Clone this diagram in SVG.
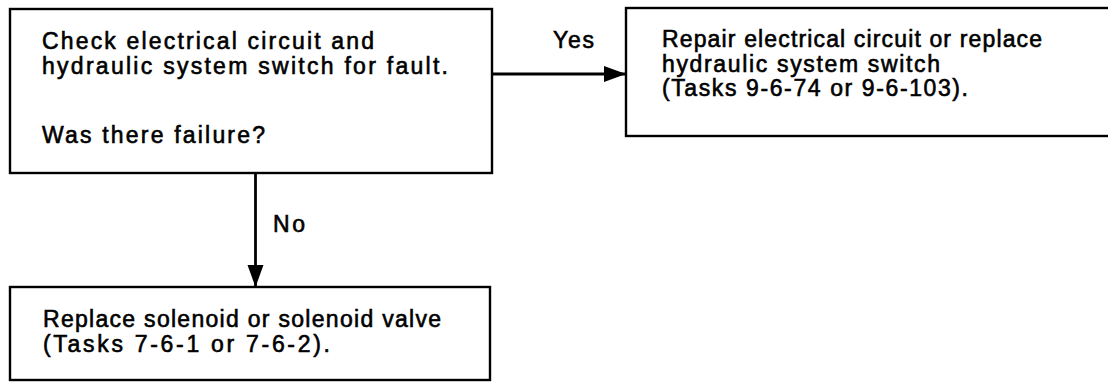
<svg xmlns="http://www.w3.org/2000/svg" width="1108" height="383" viewBox="0 0 1108 383">
<style>
.box{fill:#fff;stroke:#000;stroke-width:2.4}
.t{font-family:"Liberation Sans",Arial,sans-serif;font-size:23px;fill:#000;stroke:#000;stroke-width:0.6}
.c{stroke:#000;stroke-width:2.8;fill:none}
</style>
<defs>
<marker id="ah" markerUnits="userSpaceOnUse" markerWidth="24" markerHeight="18" refX="22" refY="8" orient="auto">
<polygon points="0,0 22,8 0,16" fill="#000"/>
</marker>
</defs>
<rect width="1108" height="383" fill="#fff"/>
<g id="n1">
<rect class="box" x="10" y="9" width="482" height="164"/>
<text class="t" x="42" y="49" textLength="332" lengthAdjust="spacing">Check electrical circuit and</text>
<text class="t" x="42" y="74" textLength="406" lengthAdjust="spacing">hydraulic system switch for fault.</text>
<text class="t" x="42" y="143" textLength="223" lengthAdjust="spacing">Was there failure?</text>
</g>
<g id="n2">
<rect class="box" x="626" y="8" width="500" height="128"/>
<text class="t" x="662" y="47" textLength="380" lengthAdjust="spacing">Repair electrical circuit or replace</text>
<text class="t" x="662" y="72" textLength="278" lengthAdjust="spacing">hydraulic system switch</text>
<text class="t" x="662" y="96" textLength="306" lengthAdjust="spacing">(Tasks 9-6-74 or 9-6-103).</text>
</g>
<g id="n3">
<rect class="box" x="10" y="287" width="480" height="93"/>
<text class="t" x="43" y="327" textLength="398" lengthAdjust="spacing">Replace solenoid or solenoid valve</text>
<text class="t" x="43" y="352" textLength="287" lengthAdjust="spacing">(Tasks 7-6-1 or 7-6-2).</text>
</g>
<g id="connectors">
<line class="c" x1="492" y1="74" x2="626" y2="74" marker-end="url(#ah)"/>
<line class="c" x1="255.5" y1="173" x2="255.5" y2="287" marker-end="url(#ah)"/>
<text class="t" x="553" y="48" textLength="41" lengthAdjust="spacing">Yes</text>
<text class="t" x="273" y="232" textLength="32" lengthAdjust="spacing">No</text>
</g>
</svg>
